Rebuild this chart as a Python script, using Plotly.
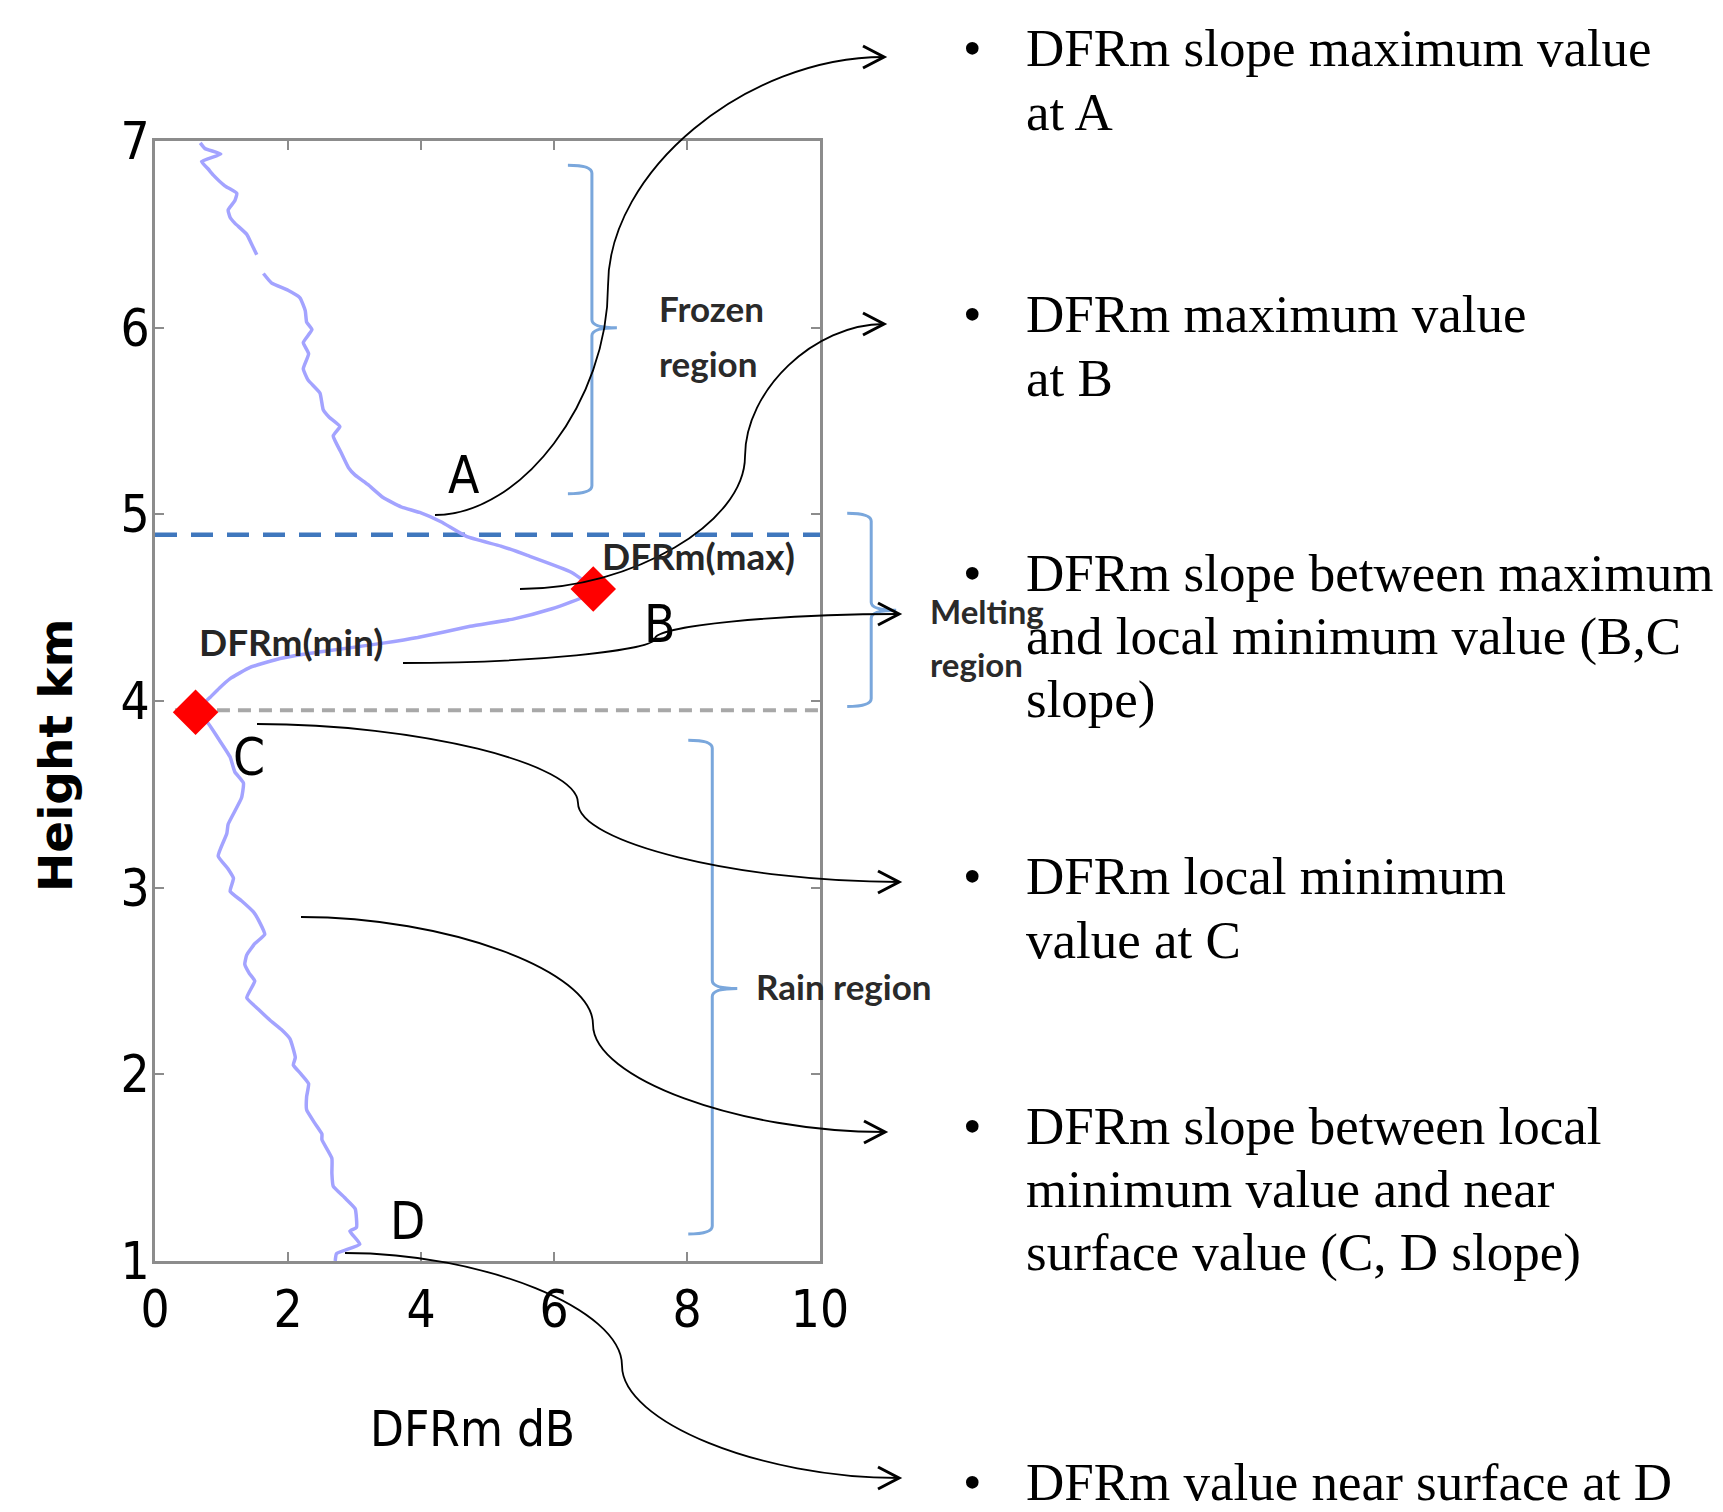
import plotly.graph_objects as go

# ---------------- data ----------------
dfr_x = [0.68, 0.75, 0.99, 0.70, 0.80, 0.87, 1.05, 1.23, 1.20, 1.10, 1.13, 1.20, 1.38, 1.45, 1.53,
         None,
         1.63, 1.75, 2.00, 2.18, 2.26, 2.28, 2.36, 2.23, 2.31, 2.23, 2.30, 2.48, 2.53, 2.62, 2.78,
         2.68, 2.80, 2.91, 3.01, 3.20, 3.43, 3.70, 3.98, 4.30, 4.69, 5.20, 5.60, 6.26, 6.59,
         6.40, 5.93, 5.40, 4.74, 3.95, 3.43, 2.63, 2.23, 1.80, 1.43, 1.13, 0.97, 0.83, 0.61,
         0.80, 0.95, 1.13, 1.20, 1.33, 1.30, 1.10, 1.08, 0.95, 1.10, 1.18, 1.13, 1.30, 1.48,
         1.58, 1.65, 1.50, 1.38, 1.35, 1.42, 1.50, 1.38, 1.55, 1.73, 1.90, 2.03, 2.11, 2.08,
         2.20, 2.31, 2.28, 2.28, 2.40, 2.51, 2.51, 2.66, 2.66, 2.68, 2.85, 3.01, 3.03, 2.93,
         3.08, 2.73, 2.71]
dfr_h = [6.99, 6.96, 6.93, 6.89, 6.85, 6.82, 6.76, 6.72, 6.68, 6.63, 6.59, 6.56, 6.50, 6.45, 6.39,
         None,
         6.29, 6.24, 6.20, 6.16, 6.09, 6.03, 5.99, 5.92, 5.86, 5.78, 5.72, 5.65, 5.56, 5.52, 5.47,
         5.42, 5.33, 5.25, 5.21, 5.16, 5.09, 5.04, 5.01, 4.96, 4.88, 4.83, 4.78, 4.69, 4.60,
         4.55, 4.49, 4.44, 4.40, 4.34, 4.31, 4.27, 4.25, 4.22, 4.18, 4.12, 4.07, 4.02, 3.94,
         3.88, 3.80, 3.70, 3.62, 3.56, 3.48, 3.34, 3.29, 3.17, 3.10, 3.05, 2.98, 2.93, 2.87,
         2.81, 2.75, 2.70, 2.64, 2.59, 2.54, 2.50, 2.41, 2.35, 2.29, 2.24, 2.19, 2.09, 2.05,
         2.00, 1.95, 1.88, 1.81, 1.74, 1.68, 1.65, 1.55, 1.47, 1.40, 1.34, 1.28, 1.18, 1.16,
         1.09, 1.04, 1.00]

key_x = [6.59, 0.61]          # DFRm(max) at B, DFRm(min) at C
key_h = [4.60, 3.94]
melt_top_km = 4.89
melt_bottom_km = 3.95

x_ticks = [0, 2, 4, 6, 8, 10]
y_ticks = [1, 2, 3, 4, 5, 6, 7]

point_labels = ["A", "B", "C", "D"]
point_lx = [4.65, 7.59, 1.41, 3.80]
point_ly = [5.21, 4.41, 3.70, 1.21]

# region braces: x position (dB), top / middle / bottom (km)
brace_x = [6.57, 10.77, 8.38]
brace_top = [6.87, 5.006, 3.79]
brace_mid = [6.00, 4.486, 2.46]
brace_bot = [5.11, 3.97, 1.145]

bullet_blocks = [
    ["DFRm slope maximum value", "at A"],
    ["DFRm maximum value", "at B"],
    ["DFRm slope between maximum", "and local minimum value (B,C", "slope)"],
    ["DFRm local minimum", "value at C"],
    ["DFRm slope between local", "minimum value and near", "surface value (C, D slope)"],
    ["DFRm value near surface at D"],
]

# ---------------- geometry (page pixels; page has an 8px body margin) ----------------
PAGE_W, PAGE_H = 1723, 1512
OFF = 8
W, H = PAGE_W - 2 * OFF, PAGE_H - 2 * OFF
L, R, T, B = 155, 820, 141, 1261          # plot area in page pixels
XR = (0, 10)
YR = (1, 7)


def d2px(x, y):
    return (L + (x - XR[0]) / (XR[1] - XR[0]) * (R - L),
            B - (y - YR[0]) / (YR[1] - YR[0]) * (B - T))


def pp(X, Y):
    return f"{(X - L) / (R - L):.5f},{(B - Y) / (B - T):.5f}"


def px2paper(X, Y):
    return (X - L) / (R - L), (B - Y) / (B - T)


NARROW = "DejaVu Sans Condensed, Liberation Sans Narrow, Liberation Sans, Arial, sans-serif"
CAL = "Lato, Carlito, Open Sans, sans-serif"
SERIF = "Liberation Serif, Times New Roman, serif"

fig = go.Figure()

fig.add_trace(go.Scatter(x=[XR[0], XR[1]], y=[melt_top_km, melt_top_km], mode="lines",
                         line=dict(color="#3f77bd", width=4.5, dash="22px,14px"),
                         hoverinfo="skip", showlegend=False))
fig.add_trace(go.Scatter(x=[0.3, XR[1]], y=[melt_bottom_km, melt_bottom_km], mode="lines",
                         line=dict(color="#a8a8a8", width=4, dash="13px,8px"),
                         hoverinfo="skip", showlegend=False))
fig.add_trace(go.Scatter(x=dfr_x, y=dfr_h, mode="lines",
                         line=dict(color="#a3a3ff", width=3.5, shape="spline", smoothing=0.4),
                         connectgaps=False, showlegend=False))
fig.add_trace(go.Scatter(x=key_x, y=key_h, mode="markers",
                         marker=dict(symbol="diamond", size=35, color="#ff0000", line=dict(width=0)),
                         showlegend=False))

shapes = []
# braces
for bx, bt, bm, bb in zip(brace_x, brace_top, brace_mid, brace_bot):
    X0, Yt = d2px(bx, bt)
    _, Ym = d2px(bx, bm)
    _, Yb = d2px(bx, bb)
    hook, tip, r = 24, 25, 8
    path = (f"M {pp(X0 - hook, Yt)} Q {pp(X0, Yt)} {pp(X0, Yt + r)} "
            f"L {pp(X0, Ym - r)} Q {pp(X0, Ym)} {pp(X0 + tip, Ym)} "
            f"Q {pp(X0, Ym)} {pp(X0, Ym + r)} L {pp(X0, Yb - r)} "
            f"Q {pp(X0, Yb)} {pp(X0 - hook, Yb)}")
    shapes.append(dict(type="path", xref="paper", yref="paper", path=path,
                       line=dict(color="#7aa7dc", width=3)))

# curved connector arrows (start px, end px, x of the vertical part)
arrows = [
    ((435, 515), (884, 57), 608),
    ((520, 589), (884, 324), 745),
    ((403, 663), (899, 614), 655),
    ((257, 724), (899, 882), 578),
    ((301, 917), (885, 1132), 593),
    ((345, 1253), (899, 1478), 622),
]
for (x1, y1), (x2, y2), xm in arrows:
    h = y2 - y1
    xa = (x1 + xm) / 2
    xb = (xm + x2) / 2
    path = (f"M {pp(x1, y1)} C {pp(xa, y1)} {pp(xm, y1 + h / 4)} {pp(xm, y1 + h / 2)} "
            f"C {pp(xm, y1 + 3 * h / 4)} {pp(xb, y2)} {pp(x2, y2)}")
    shapes.append(dict(type="path", xref="paper", yref="paper", path=path,
                       line=dict(color="black", width=1.8)))
    head = f"M {pp(x2 - 21, y2 - 11)} L {pp(x2, y2)} L {pp(x2 - 21, y2 + 11)}"
    shapes.append(dict(type="path", xref="paper", yref="paper", path=head,
                       line=dict(color="black", width=3)))

ann = []
# point letters
for t, lx, ly in zip(point_labels, point_lx, point_ly):
    ann.append(dict(x=lx, y=ly, xref="x", yref="y", text=t, showarrow=False,
                    font=dict(family=NARROW, size=51, color="black"),
                    xanchor="center", yanchor="middle"))

# DFRm(max)/(min) labels
ann.append(dict(x=8.18, y=4.78, xref="x", yref="y", text="DFRm(max)", showarrow=False,
                font=dict(family=CAL, size=37, color="#262626", weight="bold"),
                xanchor="center", yanchor="middle"))
ann.append(dict(x=2.05, y=4.32, xref="x", yref="y", text="DFRm(min)", showarrow=False,
                font=dict(family=CAL, size=37, color="#262626", weight="bold"),
                xanchor="center", yanchor="middle"))

# region labels
region_lines = [("Frozen", 657, 308, 35), ("region", 657, 363, 35),
                ("Melting", 928, 611, 33), ("region", 928, 664, 33),
                ("Rain region", 754, 986, 35)]
for t, X, Y, s in region_lines:
    xp, yp = px2paper(X, Y)
    ann.append(dict(x=xp, y=yp, xref="paper", yref="paper", text=t, showarrow=False,
                    font=dict(family=CAL, size=s, color="#2a2a2a", weight="bold"),
                    xanchor="left", yanchor="middle"))

# axis titles
xp, yp = px2paper(472, 1429)
ann.append(dict(x=xp, y=yp, xref="paper", yref="paper", text="DFRm dB", showarrow=False,
                font=dict(family=NARROW, size=49, color="black"), xanchor="center", yanchor="middle"))
xp, yp = px2paper(55, 755)
ann.append(dict(x=xp, y=yp, xref="paper", yref="paper", text="<b>Height km</b>", showarrow=False,
                textangle=-90, font=dict(family="DejaVu Sans", size=47, color="black"),
                xanchor="center", yanchor="middle"))

# bullet list
block_y = [48.5, 314.5, 572.5, 876.5, 1125.5, 1481.5]
for lines, y0 in zip(bullet_blocks, block_y):
    xb, yb = px2paper(972, y0)
    ann.append(dict(x=xb, y=yb, xref="paper", yref="paper", text="•", showarrow=False,
                    font=dict(family=SERIF, size=53, color="black"), xanchor="center", yanchor="middle"))
    for i, line in enumerate(lines):
        xt, yt = px2paper(1024, y0 + 63.5 * i)
        ann.append(dict(x=xt, y=yt, xref="paper", yref="paper", text=line, showarrow=False,
                        font=dict(family=SERIF, size=53, color="black"),
                        xanchor="left", yanchor="middle"))

axis_common = dict(showline=True, linecolor="#8c8c8c", linewidth=3, mirror="ticks",
                   ticks="inside", ticklen=9, tickwidth=2, tickcolor="#8c8c8c",
                   showgrid=False, zeroline=False,
                   tickfont=dict(family=NARROW, size=51, color="black"))

fig.update_layout(
    width=W, height=H,
    margin=dict(l=L - OFF, r=(W + OFF) - R, t=T - OFF, b=(H + OFF) - B, pad=0, autoexpand=False),
    paper_bgcolor="white", plot_bgcolor="white",
    xaxis=dict(range=list(XR), tickvals=x_ticks, ticklabelstandoff=2, **axis_common),
    yaxis=dict(range=list(YR), tickvals=y_ticks, ticklabelstandoff=-8, **axis_common),
    shapes=shapes, annotations=ann, showlegend=False,
)

fig.write_html("out.html")
